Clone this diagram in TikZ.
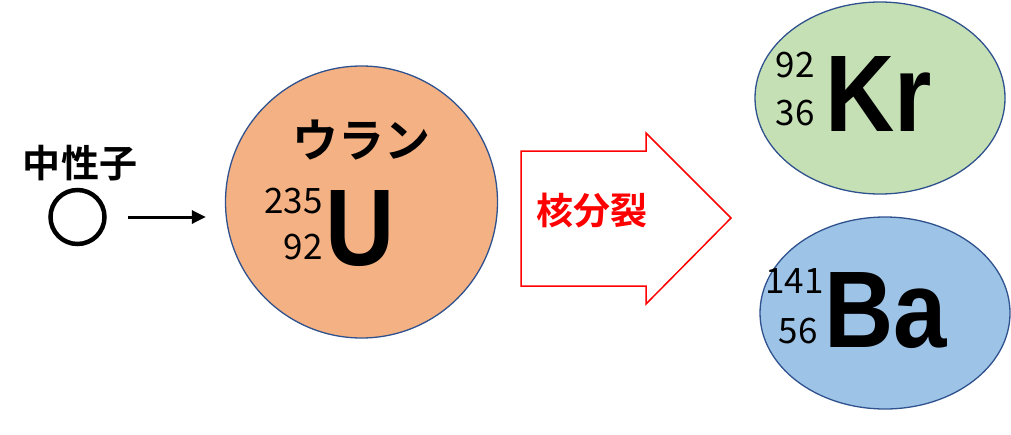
\documentclass[tikz,border=0pt]{standalone}
\usepackage{fontspec}
\setmainfont{Liberation Sans}
\newfontfamily\jpfont{Noto Sans CJK JP}[BoldFont={* Bold}]
\newfontfamily\symfont{Liberation Sans}[FakeStretch=0.88]
\usetikzlibrary{shapes.geometric,arrows.meta,positioning}
\definecolor{rim}{HTML}{2F528F}
\definecolor{uorange}{HTML}{F4B183}
\definecolor{krgreen}{HTML}{C5E0B4}
\definecolor{bablue}{HTML}{9DC3E6}

\begin{document}
\begin{tikzpicture}[x=1pt,y=-1pt,
        nucleus/.style={ellipse,draw=rim,line width=1.3pt,inner sep=0pt},
        mass/.style={font=\jpfont\fontsize{35}{35}\selectfont,inner sep=0pt,anchor=base east},
        symbol/.style={font=\symfont\bfseries\fontsize{109}{109}\selectfont,inner sep=0pt,anchor=base west},
        jp/.style={font=\jpfont\bfseries\fontsize{38}{38}\selectfont,inner sep=0pt,anchor=base}]
        \useasboundingbox (0,0) rectangle (1011,434);
        % neutron
        \node[circle,draw,line width=4.5pt,minimum size=54pt,inner sep=0pt] (n) at (77.5,217) {};
        \node[jp] (n_lab) at (80,177) {中性子};
        % uranium
        \node[nucleus,fill=uorange,minimum size=272pt] (U) at (361.5,202) {};
        \node[jp,font=\jpfont\bfseries\fontsize{46}{46}\selectfont] (U_name) at (361,157) {ウラン};
        \node[symbol] (U_sym) at (325,265) {U};
        \node[mass] (U_A) at (323,213) {235};
        \node[mass] (U_Z) at (323,259) {92};
        \draw[line width=3pt,-{Triangle[length=14pt,width=13pt]},shorten <=21pt,shorten >=19pt]
        (n) -- (n -| U.west);
        % fission arrow
        \draw[red,line width=1.5pt,line join=miter,fill=white]
        (521,151) -- (646,151) -- (646,133) -- (731,218) -- (646,304) -- (646,286) -- (521,286) -- cycle;
        \node[jp,red,font=\jpfont\bfseries\fontsize{37}{37}\selectfont] (fis) at (592,224) {核分裂};
        % products
        \node[nucleus,fill=krgreen,minimum width=250pt,minimum height=192pt] (Kr) at (880,98) {};
        \node[symbol] (Kr_sym) at (825,131) {Kr};
        \node[mass] (Kr_A) at (815,77) {92};
        \node[mass] (Kr_Z) at (815,125) {36};
        \node[nucleus,fill=bablue,minimum width=250pt,minimum height=192pt] (Ba) at (885,313) {};
        \node[symbol] (Ba_sym) at (824,347) {Ba};
        \node[mass] (Ba_A) at (824,293) {141};
        \node[mass] (Ba_Z) at (818,343) {56};
\end{tikzpicture}
\end{document}
